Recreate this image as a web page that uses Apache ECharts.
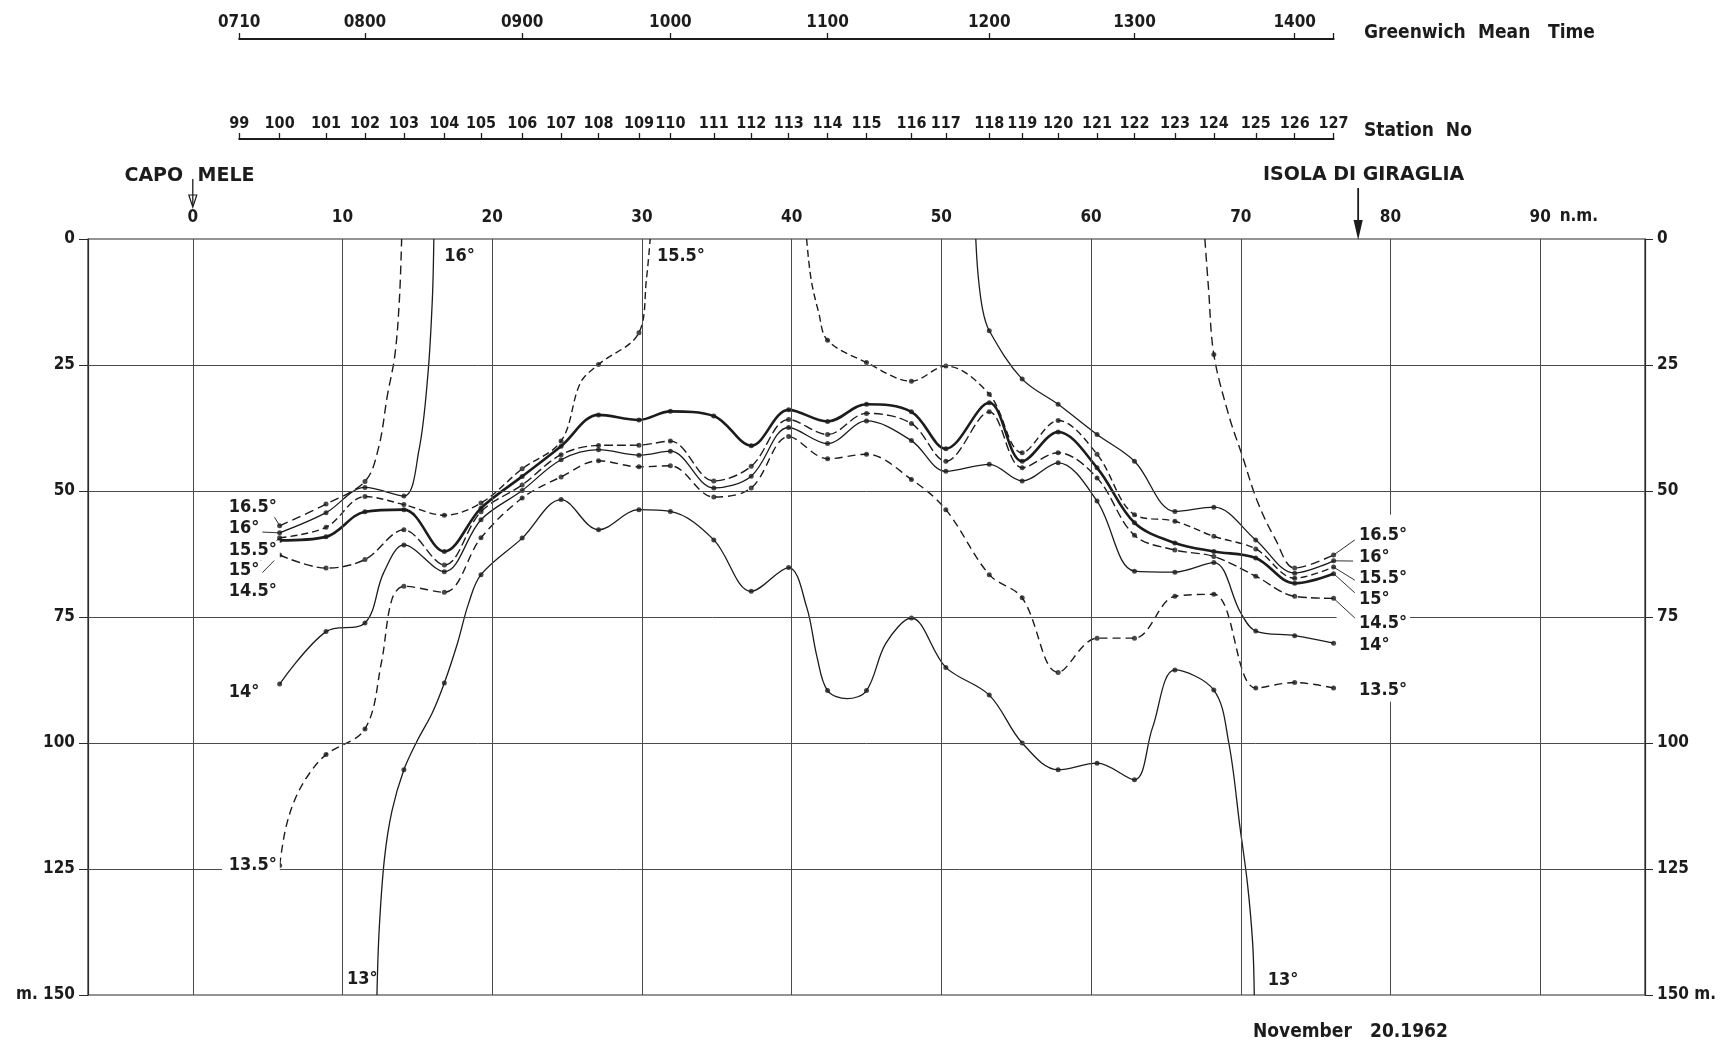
<!DOCTYPE html>
<html><head><meta charset="utf-8">
<script src="https://cdn.jsdelivr.net/npm/echarts/dist/echarts.min.js"></script>
<style>html,body{margin:0;padding:0;background:#fff}#c{width:1722px;height:1051px}</style>
</head><body><div id="c"></div>
<script>
// ================= DATA =================
const stationNo = [99,100,101,102,103,104,105,106,107,108,109,110,111,112,113,114,115,116,117,118,119,120,121,122,123,124,125,126,127];
const stationNm = [3.1,5.8,8.9,11.5,14.1,16.8,19.25,22.0,24.6,27.1,29.8,31.9,34.8,37.3,39.8,42.4,45.0,48.0,50.3,53.2,55.4,57.8,60.4,62.9,65.6,68.2,71.0,73.6,76.2];
const gmtLabels = ['0710','0800','0900','1000','1100','1200','1300','1400'];
const gmtStation = [99,102,106,110,114,118,122,126];
const distanceTicks = [0,10,20,30,40,50,60,70,80,90];
const depthTicks = [0,25,50,75,100,125,150];

// isotherms: [distance n.m., depth m]
const iso16_5W = [[5.8,56.9],[8.9,52.6],[11.5,48.1],[12.4,41.5],[13.0,31],[13.5,23],[13.8,12],[13.95,0]];
const iso16W   = [[5.8,58.3],[8.9,54.3],[11.5,49.3],[14.1,51.0],[15.1,42],[15.7,27],[16.0,12],[16.1,0]];
const iso15_5W = [[5.8,59.3],[8.9,57.2],[11.5,51.1],[14.1,52.7],[16.8,54.8],[19.25,52.4],[22.0,45.6],[24.6,40.1],[25.9,28.5],[27.1,24.9],[29.8,18.6],[30.3,8],[30.55,0]];
const iso15_5E = [[41.0,0],[41.3,8],[41.8,14.5],[42.4,20.1],[45.0,24.5],[48.0,28.2],[50.3,25.2],[53.2,30.8],[55.4,42.4],[57.8,36.0],[60.4,42.7],[62.9,54.7],[65.6,56.0],[68.2,59.0],[71.0,61.5],[73.6,67.3],[76.2,65.1]];
const iso16E   = [[52.3,0],[52.45,7],[52.75,13.9],[53.2,18.2],[55.4,27.8],[57.8,32.8],[60.4,38.8],[62.9,44.1],[65.6,54.05],[68.2,53.2],[71.0,59.7],[73.6,66.3],[76.2,63.85]];
const iso16_5E = [[67.6,0],[67.85,10],[68.2,22.9],[69.2,35],[70.1,43],[71.1,52],[72.3,59.5],[73.6,65.3],[76.2,62.7]];
const iso15    = [[5.8,59.8],[8.9,59.1],[11.5,54.1],[14.1,53.7],[16.8,62.0],[19.25,53.4],[22.0,47.1],[24.6,41.1],[27.1,34.9],[29.8,35.9],[31.9,34.2],[34.8,35.1],[37.3,41.0],[39.8,33.9],[42.4,36.2],[45.0,32.8],[48.0,34.3],[50.3,41.6],[53.2,32.5],[55.4,44.1],[57.8,38.3],[60.4,45.4],[62.9,56.3],[65.6,60.3],[68.2,62.0],[71.0,63.3],[73.6,68.3],[76.2,66.4]];
const iso14_5  = [[5.8,62.7],[8.9,65.3],[11.5,63.6],[14.1,57.7],[16.8,64.7],[19.25,54.1],[22.0,48.8],[24.6,42.8],[27.1,40.95],[29.8,40.9],[31.9,40.1],[34.8,48.0],[37.3,45.1],[39.8,35.8],[42.4,38.8],[45.0,34.6],[48.0,36.6],[50.3,44.1],[53.2,34.3],[55.4,45.4],[57.8,42.4],[60.4,47.4],[62.9,58.8],[65.6,61.7],[68.2,63.0],[71.0,66.9],[73.6,70.9],[76.2,71.3]];
const iso14    = [[5.8,88.3],[8.9,77.9],[11.5,76.2],[12.75,66.2],[14.1,60.7],[16.8,66.0],[19.25,55.7],[22.0,49.9],[24.6,43.8],[27.1,41.8],[29.8,42.9],[31.9,42.1],[34.8,49.4],[37.3,47.05],[39.8,37.4],[42.4,40.6],[45.0,36.1],[48.0,40.0],[50.3,46.1],[53.2,44.7],[55.4,48.0],[57.8,44.4],[60.4,52.0],[62.9,65.9],[65.6,66.1],[68.2,64.2],[70.0,74.2],[71.0,77.8],[73.6,78.7],[76.2,80.2]];
const iso13_5  = [[5.8,124.3],[6.2,117],[6.85,111],[7.8,106],[8.9,102.3],[11.5,97.2],[12.6,84],[13.3,71.5],[14.1,68.9],[16.8,70.1],[19.25,59.3],[22.0,51.4],[24.6,47.2],[27.1,44.0],[29.8,45.2],[31.9,45.0],[34.8,51.2],[37.3,49.4],[39.8,39.2],[42.4,43.6],[45.0,42.7],[48.0,47.7],[50.3,53.7],[53.2,66.6],[55.4,71.2],[57.8,86.0],[60.4,79.2],[62.9,79.2],[65.6,70.9],[68.2,70.5],[71.0,89.1],[73.6,88.0],[76.2,89.1]];
const iso13    = [[12.3,150],[12.45,137],[12.8,123],[13.3,113.5],[14.1,105.3],[15.0,99.5],[16.0,94],[16.8,88.1],[17.7,80],[18.4,72.5],[19.25,66.6],[22.0,59.35],[24.6,51.7],[27.1,57.7],[29.8,53.7],[31.9,54.05],[34.8,59.7],[37.3,69.9],[39.8,65.2],[41.0,73],[41.7,83],[42.4,89.6],[43.7,91.2],[45.0,89.6],[46.3,80.2],[48.0,75.2],[50.3,85.0],[53.2,90.5],[55.4,100.0],[57.8,105.3],[60.4,104.0],[62.9,107.3],[64.1,97],[65.6,85.5],[68.2,89.5],[69.2,100],[69.95,116.8],[70.45,128],[70.8,140],[70.9,150]];

// ================= LAYOUT / STYLE =================
const INK = '#1c1c1c', GRIDC = '#4a4a4a';
const NUMFONT = "'DejaVu Sans Condensed','DejaVu Sans',sans-serif";
const G = {left: 88, top: 239, width: 1557, height: 756};
const XMIN = -7, XMAX = 97;
const xPx = nm => G.left + (nm - XMIN) / (XMAX - XMIN) * G.width;
const first = stationNm[0], last = stationNm[stationNm.length - 1];
const gmtNm = gmtStation.map(s => stationNm[stationNo.indexOf(s)]);
const nearestIdx = (arr, v) => { let b = 0; arr.forEach((a, i) => { if (Math.abs(a - v) < Math.abs(arr[b] - v)) b = i; }); return b; };
const numLabel = {fontFamily: NUMFONT, fontWeight: 'bold', fontSize: 17, color: INK};
const stLabel = {fontFamily: NUMFONT, fontWeight: 'bold', fontSize: 16, color: INK};

function iso(data, width, type) {
  return {type: 'line', xAxisIndex: 0, yAxisIndex: 0, data, smooth: 0.35, symbol: 'none', z: 3,
    lineStyle: {color: INK, width, type}, silent: true};
}
const isoSets = [iso16_5W, iso16W, iso15_5W, iso15_5E, iso16E, iso16_5E, iso15, iso14_5, iso14, iso13_5, iso13];
const markers = [].concat(...isoSets.map(a => a.filter(p => stationNm.some(s => Math.abs(s - p[0]) < 1e-6))));

// gridlines (with gaps where the original leaves room for labels)
const gl = [];
distanceTicks.forEach(v => {
  if (v === 80) { gl.push([{coord: [80, 0]}, {coord: [80, 54.7]}]); gl.push([{coord: [80, 91.8]}, {coord: [80, 150]}]); }
  else gl.push([{coord: [v, 0]}, {coord: [v, 150]}]);
});
depthTicks.filter(d => d > 0 && d < 150).forEach(d => {
  if (d === 75) { gl.push([{coord: [XMIN, 75]}, {coord: [76.4, 75]}]); gl.push([{coord: [81.05, 75]}, {coord: [XMAX, 75]}]); }
  else if (d === 125) { gl.push([{coord: [XMIN, 125]}, {coord: [1.95, 125]}]); gl.push([{coord: [5.4, 125]}, {coord: [XMAX, 125]}]); }
  else gl.push([{coord: [XMIN, d]}, {coord: [XMAX, d]}]);
});

const option = {
  backgroundColor: '#ffffff',
  animation: false,
  grid: [
    Object.assign({show: true, borderColor: '#2a2a2a', borderWidth: 1.2, backgroundColor: 'transparent'}, G),
    {left: xPx(first), width: xPx(last) - xPx(first), top: 39, height: 1},
    {left: xPx(first), width: xPx(last) - xPx(first), top: 139, height: 1}
  ],
  xAxis: [
    {type: 'value', gridIndex: 0, position: 'top', min: XMIN, max: XMAX,
      axisLine: {show: false, onZero: false}, axisTick: {show: false}, splitLine: {show: false},
      axisLabel: Object.assign({customValues: distanceTicks, margin: 13, formatter: v => String(v)}, numLabel)},
    {type: 'value', gridIndex: 1, position: 'top', min: first, max: last,
      axisLine: {show: true, onZero: false, lineStyle: {color: INK, width: 2}},
      axisTick: {show: true, customValues: gmtNm.concat([last]), length: 6, lineStyle: {color: INK, width: 1.3}},
      splitLine: {show: false},
      axisLabel: Object.assign({customValues: gmtNm, margin: 8, formatter: v => gmtLabels[nearestIdx(gmtNm, v)]}, numLabel)},
    {type: 'value', gridIndex: 2, position: 'top', min: first, max: last,
      axisLine: {show: true, onZero: false, lineStyle: {color: INK, width: 2}},
      axisTick: {show: true, customValues: stationNm, length: 6, lineStyle: {color: INK, width: 1.3}},
      splitLine: {show: false},
      axisLabel: Object.assign({customValues: stationNm, margin: 7, formatter: v => String(stationNo[nearestIdx(stationNm, v)])}, stLabel)}
  ],
  yAxis: [
    {type: 'value', gridIndex: 0, position: 'left', inverse: true, min: 0, max: 150, interval: 25,
      axisLine: {show: true, onZero: false, lineStyle: {color: '#2a2a2a', width: 1.2}},
      axisTick: {show: true, length: 9, lineStyle: {color: '#2a2a2a', width: 1}},
      splitLine: {show: false},
      axisLabel: Object.assign({margin: 13, formatter: v => v === 150 ? 'm. 150' : String(v)}, numLabel)},
    {type: 'value', gridIndex: 0, position: 'right', inverse: true, min: 0, max: 150, interval: 25,
      axisLine: {show: true, onZero: false, lineStyle: {color: '#2a2a2a', width: 1.2}},
      axisTick: {show: true, length: 8, lineStyle: {color: '#2a2a2a', width: 1}},
      splitLine: {show: false},
      axisLabel: Object.assign({margin: 12, formatter: v => v === 150 ? '150 m.' : String(v)}, numLabel)},
    {type: 'value', gridIndex: 1, show: false, min: 0, max: 1},
    {type: 'value', gridIndex: 2, show: false, min: 0, max: 1}
  ],
  series: [
    {type: 'line', xAxisIndex: 0, yAxisIndex: 0, data: [[XMIN, 0]], symbol: 'none', z: 1, lineStyle: {width: 0},
      markLine: {silent: true, symbol: ['none', 'none'], label: {show: false}, animation: false,
        lineStyle: {color: GRIDC, width: 1, type: 'solid'}, emphasis: {disabled: true}, data: gl}},
    iso(iso16_5W, 1.4, [9, 5]),
    iso(iso16W, 1.3, 'solid'),
    iso(iso15_5W, 1.4, [7, 4]),
    iso(iso15_5E, 1.4, [7, 4]),
    iso(iso16E, 1.3, 'solid'),
    iso(iso16_5E, 1.4, [9, 5]),
    iso(iso15, 2.6, 'solid'),
    iso(iso14_5, 1.4, [9, 4]),
    iso(iso14, 1.3, 'solid'),
    iso(iso13_5, 1.4, [8, 5]),
    iso(iso13, 1.3, 'solid'),
    {type: 'scatter', xAxisIndex: 0, yAxisIndex: 0, data: markers, symbol: 'circle', symbolSize: 5, z: 4,
      itemStyle: {color: INK}, silent: true}
  ]
};

const chart = echarts.init(document.getElementById('c'), null, {renderer: 'canvas', width: 1722, height: 1051});
chart.setOption(option);

// ================= ANNOTATIONS =================
const P = (x, y) => chart.convertToPixel({gridIndex: 0}, [x, y]);
const g = [];
function text(str, x, y, align, font, bg) {
  const st = {text: str, font: font, fill: INK, align: align, textAlign: align, verticalAlign: 'middle', textVerticalAlign: 'middle'};
  if (bg) { st.backgroundColor = '#ffffff'; st.padding = [1, 3]; }
  g.push({type: 'text', x: x, y: y, z: 100, silent: true, style: st});
}
function seg(a, b, w) {
  g.push({type: 'line', z: 90, silent: true, shape: {x1: a[0], y1: a[1], x2: b[0], y2: b[1]}, style: {stroke: INK, lineWidth: w || 1}});
}
const LBL = "bold 18px " + NUMFONT;
const HEAD = "bold 19px 'DejaVu Sans',sans-serif";

// left labels
[['16.5°', 53.2], ['16°', 57.5], ['15.5°', 61.8], ['15°', 65.8], ['14.5°', 70.0], ['14°', 90.0], ['13.5°', 124.3]]
  .forEach(([t, d]) => { const p = P(2.2, d); text(t, p[0], p[1], 'left', LBL, true); });
// right labels
[['16.5°', 58.7], ['16°', 63.2], ['15.5°', 67.3], ['15°', 71.4], ['14.5°', 76.2], ['14°', 80.7], ['13.5°', 89.5]]
  .forEach(([t, d]) => { const p = P(77.7, d); text(t, p[0], p[1], 'left', LBL, true); });
// labels at surface / bottom
[['16°', 16.8, 3.4], ['15.5°', 31.0, 3.5], ['13°', 10.3, 146.8], ['13°', 71.8, 147.1]]
  .forEach(([t, x, d]) => { const p = P(x, d); text(t, p[0], p[1], 'left', LBL, false); });

// leaders
[[[5.38, 54.8], iso16_5W[0]], [[4.27, 58.1], iso16W[0]], [[5.16, 61.05], iso15_5W[0]], [[4.27, 64.7], iso15[0]], [[4.15, 67.7], iso14_5[0]],
 [[77.62, 59.7], iso16_5E[iso16_5E.length - 1]], [[77.5, 63.9], iso16E[iso16E.length - 1]], [[77.62, 67.7], iso15_5E[iso15_5E.length - 1]],
 [[77.62, 70.2], iso15[iso15.length - 1]], [[77.62, 75.2], iso14_5[iso14_5.length - 1]]]
  .forEach(([a, b]) => seg(P(a[0], a[1]), P(b[0], b[1]), 0.9));

// n.m.
{ const p = P(91.3, 0); text('n.m.', p[0], 217, 'left', "bold 17px " + NUMFONT, false); }

// CAPO MELE
{ const x = P(0, 0)[0];
  text('CAPO', x - 9.6, 176, 'right', HEAD, false);
  text('MELE', x + 4.7, 176, 'left', HEAD, false);
  seg([x, 179], [x, 206], 1.3);
  g.push({type: 'polygon', z: 90, silent: true, shape: {points: [[x - 4, 195], [x + 4, 195], [x, 207]]}, style: {fill: 'none', stroke: INK, lineWidth: 1.2}});
}
// ISOLA DI GIRAGLIA
{ const x = P(77.84, 0)[0];
  text('ISOLA DI GIRAGLIA', x + 5.4, 175, 'center', HEAD, false);
  seg([x, 188], [x, 226], 1.8);
  g.push({type: 'polygon', z: 90, silent: true, shape: {points: [[x - 4.6, 220], [x + 4.6, 220], [x, 240]]}, style: {fill: INK}});
}
// axis titles & date
const TF = "bold 19px " + NUMFONT;
text('Greenwich', 1364, 33, 'left', TF, false);
text('Mean', 1478, 33, 'left', TF, false);
text('Time', 1548, 33, 'left', TF, false);
text('Station  No', 1364, 131, 'left', TF, false);
text('November', 1253, 1032, 'left', TF, false);
text('20.1962', 1370, 1032, 'left', TF, false);

chart.setOption({graphic: g});
</script></body></html>
